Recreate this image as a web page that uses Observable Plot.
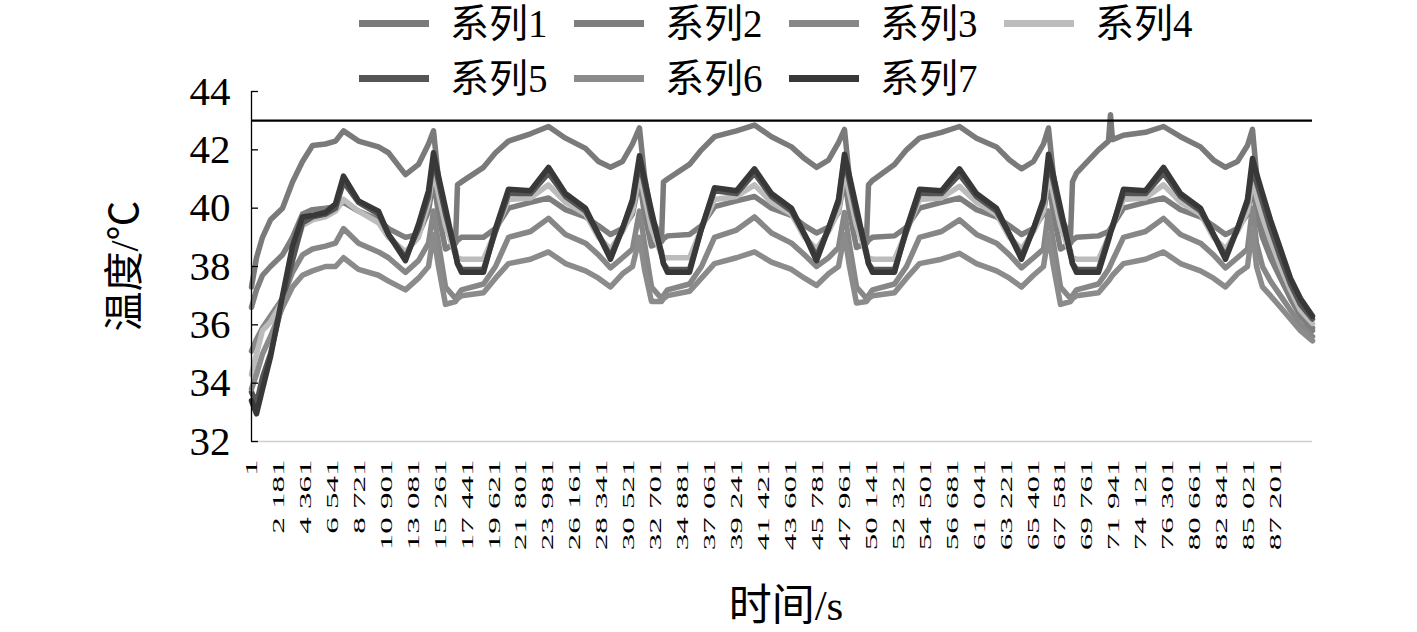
<!DOCTYPE html>
<html><head><meta charset="utf-8">
<script src="https://cdn.jsdelivr.net/npm/d3@7"></script>
<script src="https://cdn.jsdelivr.net/npm/@observablehq/plot@0.6"></script>
<style>
body{margin:0;background:#fff;}
#wrap{position:relative;width:1417px;height:632px;overflow:hidden;font-family:"Liberation Serif","Noto Sans CJK SC",serif;color:#000;background:#fff}
#wrap svg{position:absolute;left:0;top:0}
#legend{position:absolute;left:359px;top:-4px;display:grid;grid-template-columns:repeat(4,215px);grid-auto-rows:55px;}
.item{display:flex;align-items:center;font-size:39px;white-space:nowrap;line-height:1}
.sw{display:inline-block;width:70px;height:7px;margin-right:21px;flex:none}
#ytitle{position:absolute;left:125px;top:266px;transform:translate(-50%,-50%) rotate(-90deg);font-size:40px;white-space:nowrap;line-height:1}
#xtitle{position:absolute;left:786px;top:605px;transform:translate(-50%,-50%);font-size:43px;white-space:nowrap;line-height:1}
</style></head>
<body>
<div id="wrap"><div id="ytitle">温度/℃</div><div id="xtitle">时间/s</div><div id="legend"></div></div>
<script>
const seriesNames = ["系列1","系列2","系列3","系列4","系列5","系列6","系列7"];
const seriesColors = ["#7a7a7a","#7e7e7e","#878787","#bcbcbc","#555555","#8b8b8b","#383838"];
// category positions (record index) of the x tick labels, and their time labels
const xTickIndex = [0,2180,4360,6540,8720,10900,13080,15260,17440,19620,21800,23980,26160,28340,30520,32700,34880,37060,39240,41420,43600,45780,47960,50140,52320,54500,56680,58860,61040,63220,65400,67580,69760,71940,74120,76300,78480,80660,82840];
const xTickLabels = [1,2181,4361,6541,8721,10901,13081,15261,17441,19621,21801,23981,26161,28341,30521,32701,34881,37061,39241,41421,43601,45781,47961,50141,52321,54501,56681,61041,63221,65401,67581,69761,71941,74121,76301,80661,82841,85021,87201];
const yTickValues = [32,34,36,38,40,42,44];
const limitValue = [43];

// record index of each sampled point
const recordIndex = [
 0,404,890,1537,2508,3316,4125,4934,5986,6795,7442,8655,10273,11082,12457,13509,14318,
 14722,15126,15693,16502,16663,16987,18767,19737,20789,22568,24024,25399,27017,28069,29040,30010,30819,
 31385,31789,32356,33165,33326,33650,35430,36400,37452,39231,40687,42062,43680,44732,45703,46673,47482,
 47968,48372,48939,49748,49909,50233,52013,52983,54035,55814,57270,58645,60263,61315,62286,63256,64065,
 64469,64873,65440,66249,66410,66734,68514,69322,69484,69646,70536,72315,73771,75146,76764,77816,78787,79757,80566,
 80971,81295,81780,82427,83236,84045,84854,85825];

const s1 = [
 37.3,38.3,39.0,39.6,40.0,40.9,41.6,42.15,42.2,42.3,42.65,42.3,42.1,41.9,41.15,41.5,42.2,
 42.65,41.0,39.6,38.8,40.8,40.9,41.4,41.9,42.3,42.55,42.8,42.4,42.05,41.6,41.4,41.6,42.2,
 42.75,41.1,39.7,38.9,40.9,41.0,41.5,42.0,42.45,42.65,42.85,42.45,42.1,41.7,41.4,41.65,42.25,
 42.7,41.0,39.6,38.9,40.8,40.95,41.5,42.0,42.4,42.6,42.8,42.4,42.1,41.65,41.35,41.6,42.2,
 42.75,41.1,39.7,39.0,40.9,41.2,42.0,42.3,43.2,42.35,42.5,42.6,42.8,42.45,42.1,41.65,41.4,41.6,42.15,
 42.7,41.2,39.6,38.7,37.9,37.1,36.5,35.9];
const s2 = [
 36.6,37.2,37.7,38.0,38.4,39.0,39.8,39.95,40.0,40.05,40.2,39.9,39.6,39.3,39.0,39.1,39.9,
 41.0,39.8,38.6,38.8,38.9,39.0,39.0,39.3,40.0,40.2,40.35,39.95,39.7,39.4,39.1,39.3,39.8,
 41.0,39.8,38.7,38.85,38.95,39.05,39.1,39.4,40.05,40.25,40.4,40.0,39.75,39.4,39.15,39.35,39.85,
 41.05,39.85,38.65,38.8,38.9,39.0,39.05,39.35,40.0,40.2,40.35,39.95,39.7,39.4,39.1,39.3,39.8,
 41.0,39.8,38.6,38.8,38.9,39.0,39.05,39.2,39.3,39.4,40.0,40.2,40.35,39.95,39.7,39.4,39.1,39.3,39.8,
 40.9,39.8,39.0,38.3,37.6,36.9,36.3,35.8];
const s3 = [
 35.1,35.5,35.9,36.3,36.9,37.8,38.4,38.6,38.7,38.8,39.3,38.8,38.5,38.3,37.8,38.2,38.8,
 39.9,38.8,37.3,36.9,37.0,37.2,37.4,38.0,39.0,39.2,39.65,39.1,38.8,38.4,37.95,38.3,38.6,
 39.9,38.8,37.3,36.9,37.0,37.2,37.4,38.0,39.0,39.25,39.7,39.15,38.8,38.4,38.0,38.3,38.65,
 39.85,38.75,37.3,36.9,37.0,37.2,37.4,38.0,39.0,39.2,39.6,39.1,38.8,38.4,37.95,38.3,38.6,
 39.9,38.8,37.3,36.9,37.0,37.2,37.4,37.9,38.05,38.2,39.0,39.2,39.65,39.1,38.8,38.4,37.95,38.3,38.6,
 40.0,38.8,38.0,37.5,37.0,36.5,36.0,35.6];
const s4 = [
 34.3,35.0,35.8,36.1,36.8,38.3,39.4,39.6,39.7,39.9,40.3,39.9,39.5,39.0,38.5,39.0,40.2,
 41.3,40.5,39.4,38.4,38.3,38.25,38.25,39.2,40.3,40.35,40.8,40.2,39.8,39.0,38.6,39.2,39.9,
 41.2,40.4,39.3,38.4,38.3,38.3,38.3,39.3,40.3,40.4,40.8,40.2,39.8,39.0,38.6,39.2,39.9,
 41.3,40.5,39.4,38.4,38.3,38.25,38.25,39.2,40.3,40.35,40.75,40.2,39.8,39.0,38.6,39.2,39.9,
 41.2,40.5,39.4,38.4,38.3,38.25,38.25,39.0,39.2,39.4,40.3,40.35,40.8,40.2,39.8,39.0,38.6,39.2,39.9,
 41.0,40.4,39.7,38.9,38.0,37.2,36.5,36.05];
const s5 = [
 33.7,33.3,34.2,35.0,36.8,38.2,39.5,39.7,39.8,40.0,40.9,40.2,39.8,39.1,38.3,39.3,40.4,
 41.7,40.9,39.8,38.5,38.1,37.9,37.9,39.2,40.5,40.5,41.2,40.4,39.9,39.1,38.35,39.3,40.2,
 41.6,40.8,39.7,38.5,38.1,37.9,37.9,39.3,40.6,40.5,41.2,40.4,39.9,39.1,38.35,39.3,40.2,
 41.7,40.9,39.8,38.5,38.1,37.9,37.9,39.2,40.5,40.5,41.15,40.4,39.9,39.1,38.35,39.3,40.2,
 41.6,40.9,39.8,38.5,38.1,37.9,37.9,39.0,39.2,39.4,40.5,40.5,41.2,40.4,39.9,39.1,38.35,39.3,40.2,
 41.4,40.9,40.2,39.3,38.3,37.4,36.7,36.2];
const s6 = [
 33.8,34.3,35.0,35.6,36.6,37.3,37.7,37.85,38.0,38.0,38.3,37.9,37.7,37.5,37.2,37.6,38.0,
 39.1,38.0,36.7,36.8,36.9,37.0,37.1,37.6,38.1,38.25,38.5,38.1,37.85,37.6,37.3,37.75,38.0,
 39.0,37.9,36.8,36.8,36.9,37.0,37.15,37.6,38.1,38.3,38.5,38.15,37.9,37.6,37.35,37.75,38.0,
 39.1,38.0,36.75,36.8,36.9,37.0,37.1,37.6,38.1,38.25,38.45,38.1,37.85,37.6,37.3,37.7,38.0,
 39.1,38.0,36.7,36.8,36.9,37.0,37.1,37.5,37.6,37.7,38.1,38.25,38.5,38.1,37.85,37.6,37.3,37.75,38.0,
 39.3,38.0,37.3,37.0,36.6,36.2,35.8,35.45];
const s7 = [
 33.4,32.95,33.8,34.9,37.0,38.7,39.7,39.75,39.85,40.15,41.1,40.25,39.9,39.1,38.2,39.45,40.6,
 41.9,41.1,40.0,38.4,38.1,37.8,37.8,39.3,40.65,40.6,41.4,40.5,40.0,39.1,38.25,39.3,40.3,
 41.8,41.0,39.9,38.4,38.1,37.8,37.8,39.3,40.7,40.6,41.35,40.5,40.0,39.1,38.2,39.3,40.3,
 41.85,41.1,40.0,38.4,38.1,37.8,37.8,39.3,40.65,40.6,41.35,40.5,40.0,39.1,38.25,39.3,40.3,
 41.85,41.1,40.0,38.4,38.1,37.8,37.8,38.9,39.15,39.35,40.65,40.6,41.4,40.5,40.0,39.1,38.25,39.3,40.3,
 41.7,41.2,40.5,39.6,38.6,37.6,36.9,36.3];

const seriesValues = [s1,s2,s3,s4,s5,s6,s7];
const data = [];
seriesNames.forEach((name, k) => {
  seriesValues[k].forEach((v, i) => data.push({n: recordIndex[i], v, s: name}));
});

const labelOf = new Map(xTickIndex.map((d, i) => [d, xTickLabels[i]]));
const fmt = d => d3.format(",")(labelOf.get(d)).replace(/,/g, " ");

const chart = Plot.plot({
  width: 1417, height: 632,
  marginLeft: 251, marginRight: 105, marginTop: 91, marginBottom: 191,
  style: {fontFamily: '"Liberation Serif","Noto Sans CJK SC",serif', background: "transparent", color: "#000"},
  x: {domain: [0, 85825]},
  y: {domain: [32, 44]},
  color: {domain: seriesNames, range: seriesColors},
  marks: [
    Plot.ruleY([32], {stroke: "#d0d0d0", strokeWidth: 1.6}),
    Plot.line(data, {x: "n", y: "v", z: "s", stroke: "s", strokeWidth: 5.5, strokeLinejoin: "round", strokeLinecap: "round"}),
    Plot.ruleY(limitValue, {stroke: "#000", strokeWidth: 2.2}),
    Plot.ruleX([0], {stroke: "#000", strokeWidth: 1.3}),
    Plot.axisY({ticks: yTickValues, tickSize: -7, tickPadding: 28, fontSize: 41, label: null, stroke: "#000", strokeWidth: 1.3}),
    Plot.axisX({ticks: xTickIndex, tickFormat: fmt, tickRotate: -90, tickSize: 0, tickPadding: 18, fontSize: 33, label: null})
  ]
});
document.getElementById("wrap").prepend(chart);
chart.querySelectorAll('g[aria-label="x-axis tick label"] text').forEach(t => {
  const tr = t.getAttribute("transform") || "";
  t.setAttribute("transform", tr + " scale(1,0.52)");
});

const legend = document.getElementById("legend");
seriesNames.forEach((name, k) => {
  const it = document.createElement("div");
  it.className = "item";
  const sw = document.createElement("span");
  sw.className = "sw";
  sw.style.background = seriesColors[k];
  it.appendChild(sw);
  it.appendChild(document.createTextNode(name));
  legend.appendChild(it);
});
</script>
</body></html>
